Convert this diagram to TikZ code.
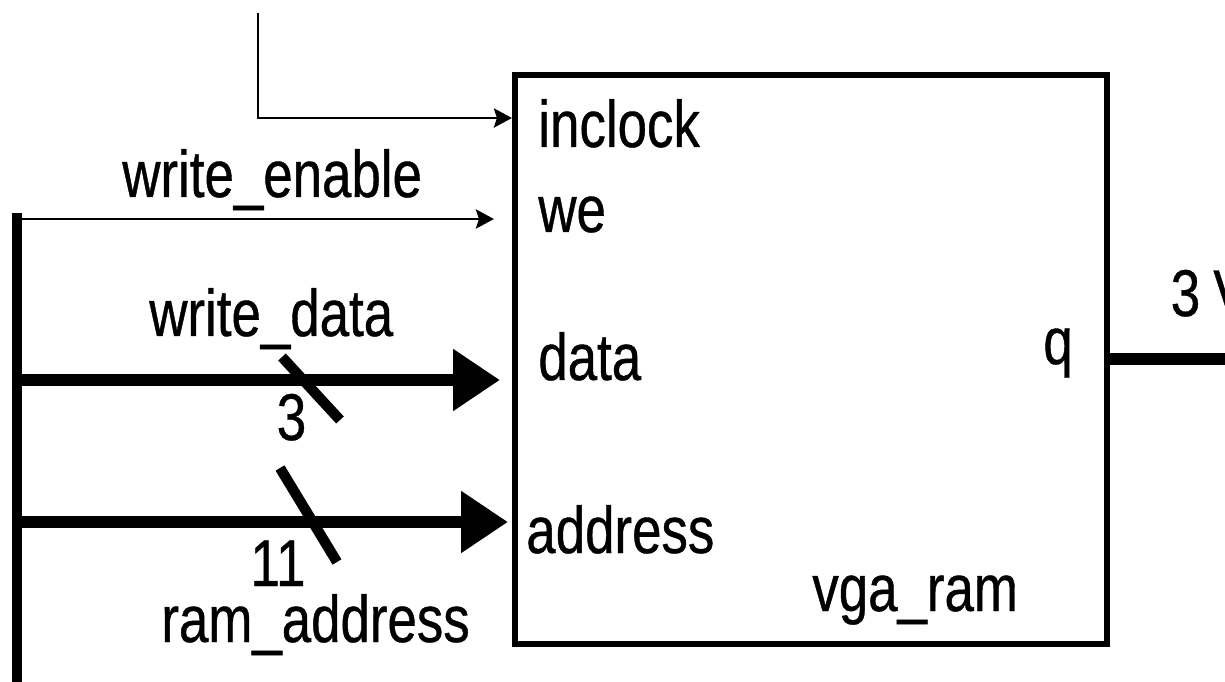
\documentclass[tikz,border=0pt]{standalone}
\usepackage{fontspec}
\setmainfont{Liberation Sans}[FakeStretch=0.80,FakeBold=0.6]
\usetikzlibrary{arrows.meta}
\begin{document}
\begin{tikzpicture}[x=0.02cm,y=-0.02cm,
  lbl/.style={inner sep=0pt,font=\fontsize{37.6pt}{40pt}\selectfont},
  wire/.style={line width=1.7pt},
  bus/.style={line width=6.8pt},
  thinarrow/.style={-{Stealth[length=0.36cm,width=0.38cm,inset=0.06cm]}},
  busarrow/.style={-{Triangle[length=0.94cm,width=1.18cm]}},
  slashmark/.style={line width=5.9pt},
  blockbox/.style={draw,line width=3.4pt,inner sep=0pt,minimum width=11.84cm,minimum height=11.38cm}]
\useasboundingbox (0,0) rectangle (1225,682);
\clip (0,0) rectangle (1225,682);

% block
\node[blockbox] (ram) at (811,359.5) {};

% port labels
\node[lbl,anchor=base west] (pclk) at (538,147) {inclock};
\node[lbl,anchor=base west] (pwe) at (538,232) {we};
\node[lbl,anchor=base west] (pdata) at (538,380) {data};
\node[lbl,anchor=base west] (paddr) at (526,553) {address};
\node[lbl,anchor=base west] (pq) at (1043,364) {q};
\node[lbl,anchor=base west] (pname) at (812,611) {vga\_ram};

% signal labels
\node[lbl,anchor=base west] (lwe) at (122,197) {write\_enable};
\node[lbl,anchor=base west] (lwd) at (149,336) {write\_data};
\node[lbl,anchor=base] (lw3) at (291.5,440) {3};
\node[lbl,anchor=base] (la11) at (278,586) {11};
\node[lbl,anchor=base west] (lra) at (161,642) {ram\_address};
\node[lbl,anchor=base] (lq3) at (1185.5,316) {3};
\node[lbl,anchor=base west] (lqv) at (1213,316) {V};

% connector end points
\coordinate (clktop) at (258,13);
\coordinate (clkend) at (512,118);
\coordinate (bustop) at (17,213);
\coordinate (busbot) at (17,700);
\coordinate (westart) at (17,219);
\coordinate (weend) at (494,219);
\coordinate (wdstart) at (17,380);
\coordinate (wdend) at (500,380);
\coordinate (adstart) at (17,522);
\coordinate (adend) at (508,522);
\coordinate (qout) at (1240,359);
\coordinate (s1a) at (282,357);
\coordinate (s1b) at (340,420);
\coordinate (s2a) at (280,468);
\coordinate (s2b) at (337,562);

% wires
\draw[wire,thinarrow] (clktop) |- (clkend);
\draw[line width=5.7pt] (bustop) -- (busbot);
\draw[wire,thinarrow] (westart) -- (weend);
\draw[bus,busarrow] (wdstart) -- (wdend);
\draw[bus,busarrow] (adstart) -- (adend);
\draw[bus] (ram.east |- qout) -- (qout);

% bus width slashes
\draw[slashmark] (s1a) -- (s1b);
\draw[slashmark] (s2a) -- (s2b);
\end{tikzpicture}
\end{document}
